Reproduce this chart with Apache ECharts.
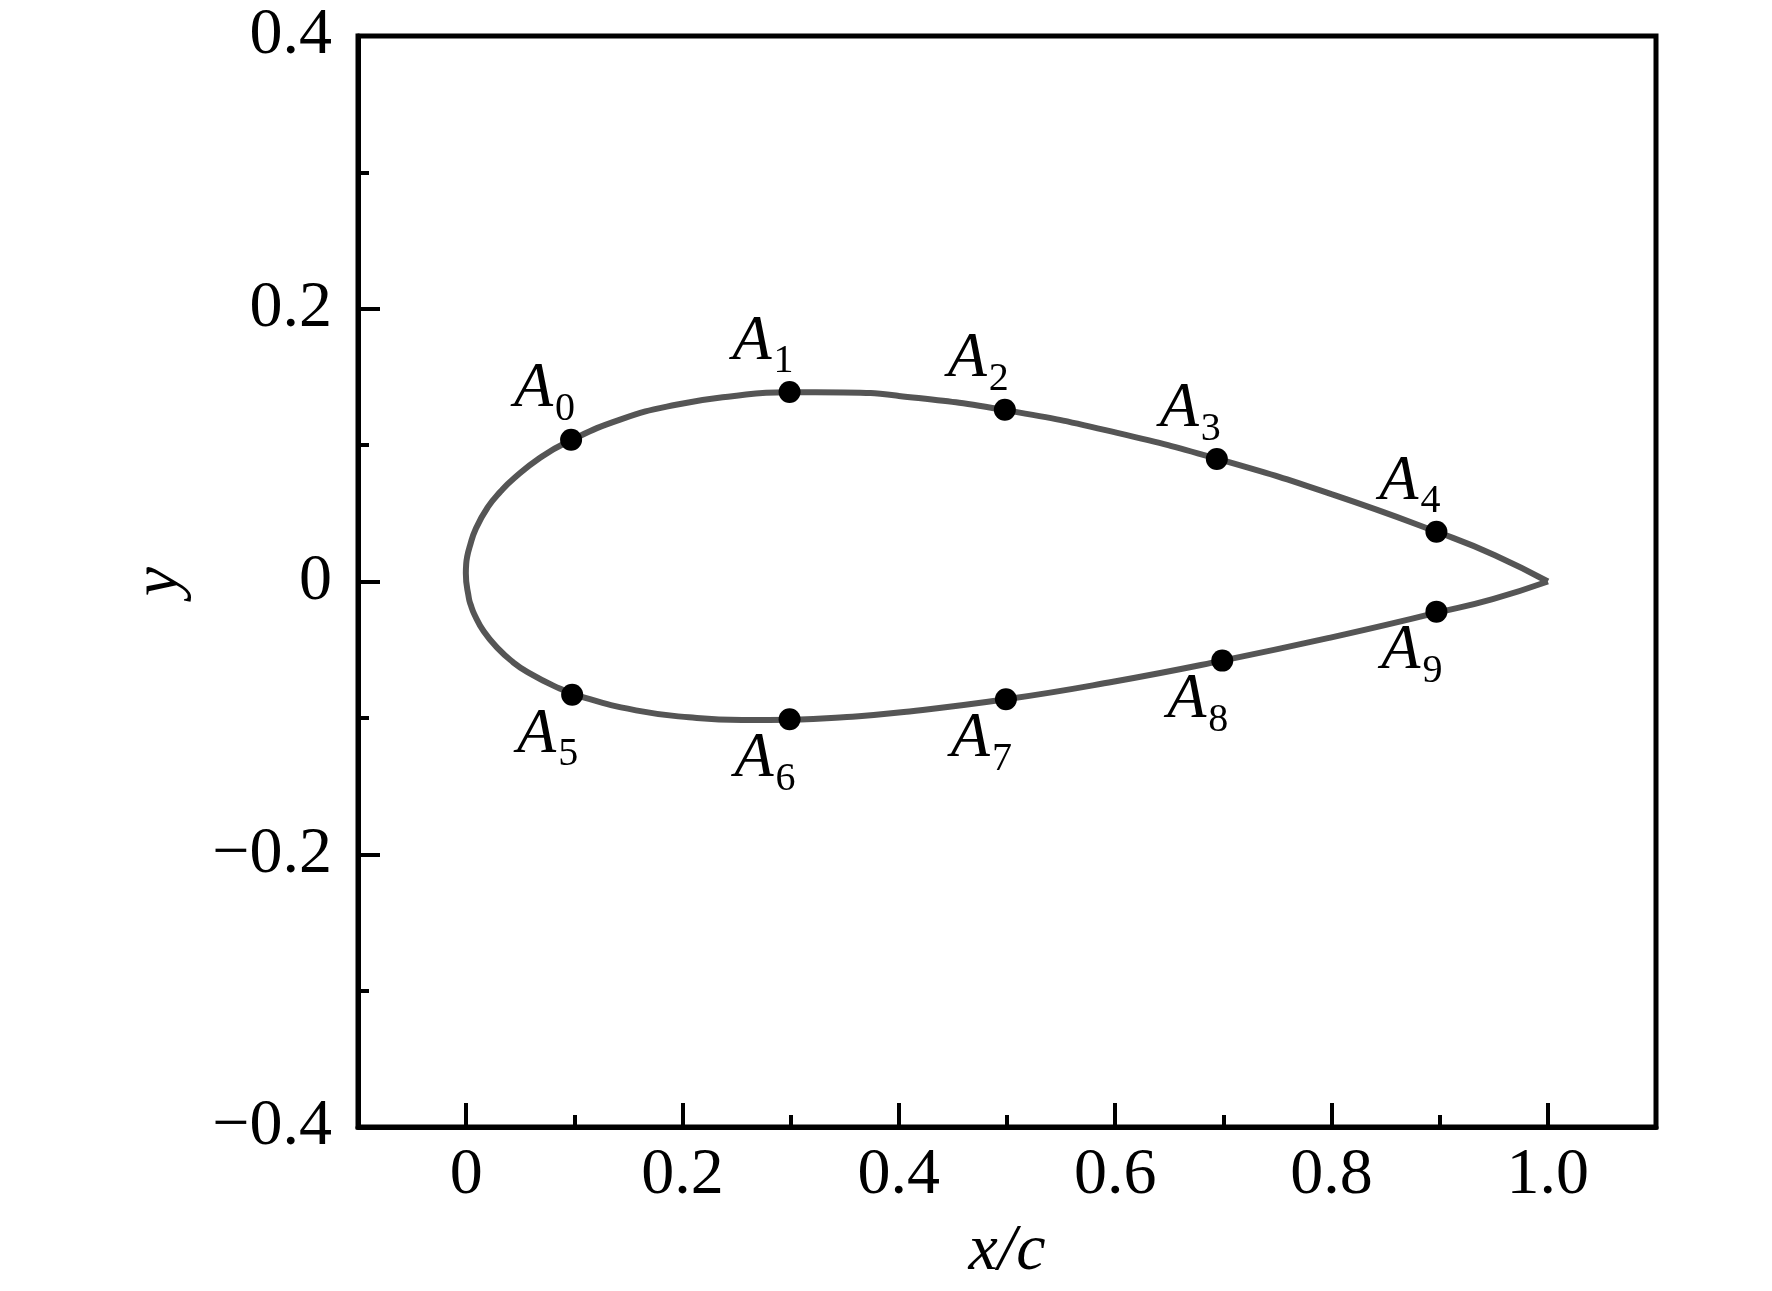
<!DOCTYPE html>
<html>
<head>
<meta charset="utf-8">
<title>Airfoil</title>
<script src="https://cdn.jsdelivr.net/npm/echarts@6/dist/echarts.min.js"></script>
<style>
  html, body { margin: 0; padding: 0; background: #fff; }
  #chart { width: 1772px; height: 1291px; }
</style>
</head>
<body>
<div id="chart"></div>
<script>
// profile: upper surface TE -> LE, lower surface LE -> TE
const upperX = [1.0, 0.951, 0.902, 0.802, 0.702, 0.602, 0.501, 0.4, 0.349, 0.297, 0.246, 0.194, 0.143, 0.093, 0.068, 0.044, 0.032, 0.020, 0.009, 0.003, 0.0008, 0.000, -0.0003];
const upperY = [0, 0.0193, 0.035, 0.0635, 0.0882, 0.109, 0.1253, 0.1361, 0.1386, 0.1388, 0.1359, 0.1296, 0.1189, 0.1021, 0.0905, 0.0755, 0.0661, 0.0545, 0.0389, 0.0248, 0.0176, 0.0125, 0.006];
const lowerX = [0, 0.0025, 0.0042, 0.0074, 0.0162, 0.030, 0.043, 0.056, 0.082, 0.107, 0.157, 0.206, 0.255, 0.303, 0.352, 0.4, 0.499, 0.598, 0.698, 0.798, 0.898, 0.949, 1.0];
const lowerY = [0, -0.0122, -0.0171, -0.0238, -0.0365, -0.0496, -0.0589, -0.0661, -0.0769, -0.0846, -0.0945, -0.0996, -0.1016, -0.1013, -0.0993, -0.0961, -0.0864, -0.0735, -0.0582, -0.0413, -0.0228, -0.0129, 0];

// measuring points A0..A9
const pointNames = ['0', '1', '2', '3', '4', '5', '6', '7', '8', '9'];
const pointX = [0.097, 0.299, 0.498, 0.694, 0.897, 0.098, 0.299, 0.499, 0.699, 0.897];
const pointY = [0.104, 0.139, 0.126, 0.0898, 0.0365, -0.083, -0.101, -0.0863, -0.058, -0.0221];

const xTicks = [0, 0.2, 0.4, 0.6, 0.8, 1.0];
const yTicks = [-0.4, -0.2, 0, 0.2, 0.4];

const FONT = 'Liberation Serif';
const chart = echarts.init(document.getElementById('chart'));

const profile = upperX.map((x, i) => [x, upperY[i]])
  .concat(lowerX.slice(1).map((x, i) => [x, lowerY[i + 1]]));

function fmt(v) {
  if (Math.abs(v) < 1e-9) return '0';
  return (v < 0 ? '\u2212' : '') + Math.abs(v).toFixed(1);
}

// subscript pushed down with top padding
const labelRich = {
  a: { fontFamily: FONT, fontStyle: 'italic', fontSize: 64, lineHeight: 64, color: '#000' },
  s: { fontFamily: FONT, fontSize: 40, lineHeight: 40, color: '#000', padding: [40, 0, 0, 2] }
};

const option = {
  animation: false,
  backgroundColor: '#fff',
  grid: [
    { left: 358, right: 116, top: 36, bottom: 164, show: true, borderColor: '#000', borderWidth: 5, containLabel: false },
    { left: 466.2, right: 224.2, top: 36, bottom: 164, containLabel: false }
  ],
  xAxis: [
    {
      type: 'value', gridIndex: 0, min: -0.1, max: 1.1, interval: 0.1,
      name: 'x/c', nameLocation: 'middle', nameGap: 92,
      nameTextStyle: { fontFamily: FONT, fontStyle: 'italic', fontSize: 66, color: '#000' },
      axisLine: { show: true, onZero: false, lineStyle: { color: '#000', width: 5 } },
      axisTick: { show: true, inside: true, length: 12, lineStyle: { color: '#000', width: 4 } },
      axisLabel: { show: false },
      splitLine: { show: false }
    },
    {
      type: 'value', gridIndex: 1, min: xTicks[0], max: xTicks[xTicks.length - 1], interval: 0.2,
      axisLine: { show: false, onZero: false },
      axisTick: { show: true, inside: true, length: 24, lineStyle: { color: '#000', width: 4 } },
      axisLabel: { show: true, margin: 16, fontFamily: FONT, fontSize: 66, color: '#000', formatter: fmt },
      splitLine: { show: false }
    }
  ],
  yAxis: [
    {
      type: 'value', gridIndex: 0, min: yTicks[0], max: yTicks[yTicks.length - 1], interval: 0.2,
      name: 'y', nameLocation: 'middle', nameGap: 165,
      nameTextStyle: { fontFamily: FONT, fontStyle: 'italic', fontSize: 66, color: '#000' },
      axisLine: { show: true, onZero: false, lineStyle: { color: '#000', width: 5 } },
      axisTick: { show: true, inside: true, length: 22, lineStyle: { color: '#000', width: 4 } },
      minorTick: { show: true, splitNumber: 2, length: 11, lineStyle: { color: '#000', width: 4 } },
      axisLabel: { show: true, margin: 26, fontFamily: FONT, fontSize: 66, color: '#000', formatter: fmt },
      splitLine: { show: false }
    },
    { type: 'value', gridIndex: 1, min: -0.4, max: 0.4, show: false, axisLine: { onZero: false } }
  ],
  series: [
    {
      type: 'line', xAxisIndex: 0, yAxisIndex: 0,
      data: profile, smooth: 0.5, showSymbol: false, symbol: 'none',
      lineStyle: { color: '#555555', width: 6 }, z: 2
    },
    {
      type: 'scatter', xAxisIndex: 0, yAxisIndex: 0, z: 3,
      symbolSize: 22, itemStyle: { color: '#000', opacity: 1 },
      data: pointX.map((x, i) => ({
        value: [x, pointY[i]],
        label: {
          show: true, position: 'inside', align: 'right', color: '#000',
          textBorderWidth: 0,
          verticalAlign: i < 5 ? 'bottom' : 'top',
          offset: i < 5 ? [4, -18] : [6, 8],
          formatter: '{a|A}{s|' + pointNames[i] + '}',
          rich: labelRich
        }
      }))
    }
  ]
};

chart.setOption(option);
</script>
</body>
</html>
